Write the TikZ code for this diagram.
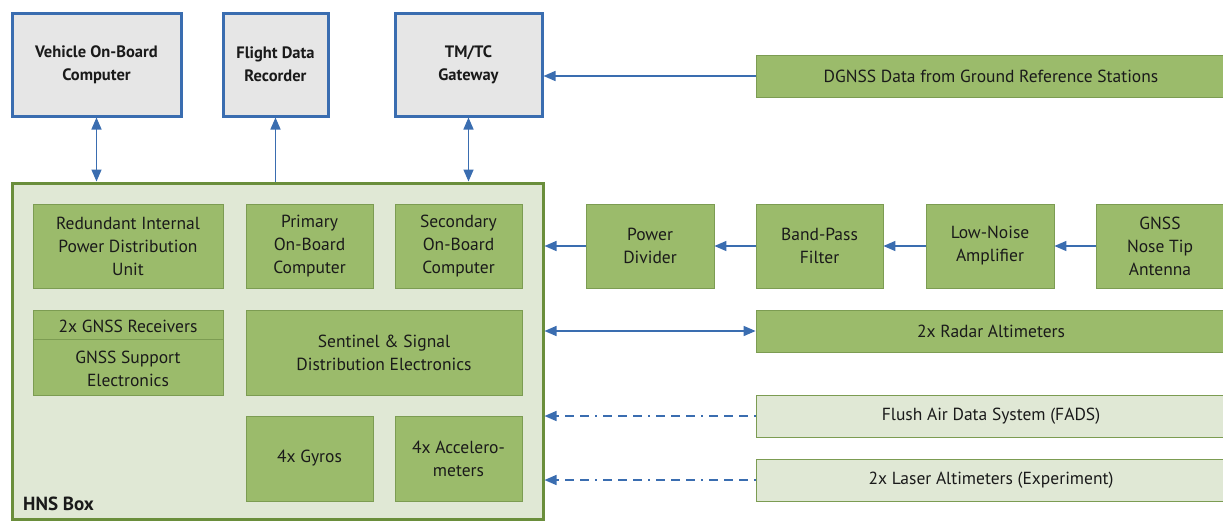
\documentclass[tikz,border=0pt]{standalone}
\usepackage{fontspec}
\setmainfont{PT Sans}
\usetikzlibrary{arrows.meta}
\definecolor{bluel}{HTML}{3A6DB0}
\definecolor{boxgray}{HTML}{E6E6E6}
\definecolor{gfill}{HTML}{9BBB6B}
\definecolor{gdraw}{HTML}{7C9C52}
\definecolor{hnsfill}{HTML}{E0E8D5}
\definecolor{hnsdraw}{HTML}{6A8E3B}
\definecolor{txt}{HTML}{1A1A1A}
\begin{document}
\begin{tikzpicture}[x=1pt,y=-1pt,
  top/.style={draw=bluel, line width=3pt, fill=boxgray, align=center, inner sep=0pt,
    font=\fontsize{16.5}{23}\selectfont\bfseries, text=txt},
  sub/.style={draw=gdraw, line width=0.8pt, fill=gfill, align=center, inner sep=0pt,
    font=\fontsize{17.5}{23}\selectfont, text=txt},
  light/.style={draw=gdraw, line width=0.8pt, fill=hnsfill, align=center, inner sep=0pt,
    font=\fontsize{17.5}{23}\selectfont, text=txt},
  conn/.style={draw=bluel, line width=1.5pt},
  tip/.tip={Triangle[length=12pt,width=10pt]},
  dd/.style={conn, dash pattern=on 2pt off 6pt on 9pt off 6pt on 9pt off 6pt on 9pt off 6pt}
]
\useasboundingbox (0,0) rectangle (1223,523);
% top boxes
\node[top, minimum width=169pt, minimum height=103pt] (voc) at (96.5,64.5) {Vehicle On-Board\\Computer};
\node[top, minimum width=105pt, minimum height=103pt] (fdr) at (275.5,64.5) {Flight Data\\Recorder};
\node[top, minimum width=147pt, minimum height=103pt] (tmtc) at (468.5,64.5) {TM/TC\\Gateway};
\node[sub, minimum width=470pt, minimum height=42pt] (dgnss) at (991,76) {DGNSS Data from Ground Reference Stations};
% HNS box
\node[draw=hnsdraw, line width=3pt, fill=hnsfill, minimum width=531pt, minimum height=336pt, inner sep=0pt] (hns) at (277.5,351) {};
\node[anchor=base west, inner sep=0pt, font=\fontsize{19}{20}\selectfont\bfseries, text=txt] (hnslbl) at (23,510) {HNS Box};
% internal
\node[sub, minimum width=190pt, minimum height=84pt] (ipdu) at (128,246) {Redundant Internal\\Power Distribution\\Unit};
\node[sub, minimum width=127pt, minimum height=84pt] (pobc) at (309.5,246) {Primary\\On-Board\\Computer};
\node[sub, minimum width=127pt, minimum height=84pt] (sobc) at (458.5,246) {Secondary\\On-Board\\Computer};
\node[sub, minimum width=190pt, minimum height=85pt] (gnssr) at (128,352.5) {};
\draw[draw=gdraw, line width=0.8pt] (gnssr.west |- 0,339) coordinate (gl) -- (gnssr.east |- 0,339) coordinate (gr);
\node[font=\fontsize{17.5}{23}\selectfont, text=txt, inner sep=0pt] (gnssrt) at (128,326) {2x GNSS Receivers};
\node[font=\fontsize{17.5}{23}\selectfont, text=txt, inner sep=0pt, align=center] (gnssst) at (128,368.5) {GNSS Support\\Electronics};
\node[sub, minimum width=276pt, minimum height=85pt] (sent) at (384,352.5) {Sentinel \& Signal\\Distribution Electronics};
\node[sub, minimum width=127pt, minimum height=85pt] (gyro) at (309.5,458.5) {4x Gyros};
\node[sub, minimum width=127pt, minimum height=85pt] (accel) at (458.5,458.5) {4x Accelero-\\meters};
% chain
\node[sub, minimum width=128pt, minimum height=84pt] (pdiv) at (650,246) {Power\\Divider};
\node[sub, minimum width=127pt, minimum height=84pt] (bpf) at (819.5,246) {Band-Pass\\Filter};
\node[sub, minimum width=128pt, minimum height=84pt] (lna) at (990,246) {Low-Noise\\Amplifier};
\node[sub, minimum width=128pt, minimum height=84pt] (ant) at (1160,246) {GNSS\\Nose Tip\\Antenna};
\node[sub, minimum width=470pt, minimum height=42pt] (radar) at (991,331) {2x Radar Altimeters};
\node[light, minimum width=470pt, minimum height=42pt] (fads) at (991,416) {Flush Air Data System (FADS)};
\node[light, minimum width=470pt, minimum height=42pt] (laser) at (991,480) {2x Laser Altimeters (Experiment)};
% connectors
\draw[conn, tip-tip] (hns.north -| voc) -- (voc.south);
\draw[conn, -tip] (hns.north -| fdr) -- (fdr.south);
\draw[conn, tip-tip] (hns.north -| tmtc) -- (tmtc.south);
\draw[conn, -tip] (dgnss.west) -- (tmtc.east |- dgnss.west);
\draw[conn, -tip] (ant.west) -- (lna.east);
\draw[conn, -tip] (lna.west) -- (bpf.east);
\draw[conn, -tip] (bpf.west) -- (pdiv.east);
\draw[conn, -tip] (pdiv.west) -- (hns.east |- pdiv.west);
\draw[conn, tip-tip] (hns.east |- radar.west) -- (radar.west);
\draw[dd, -tip] (fads.west) -- (hns.east |- fads.west);
\draw[dd, -tip] (laser.west) -- (hns.east |- laser.west);
\end{tikzpicture}
\end{document}
